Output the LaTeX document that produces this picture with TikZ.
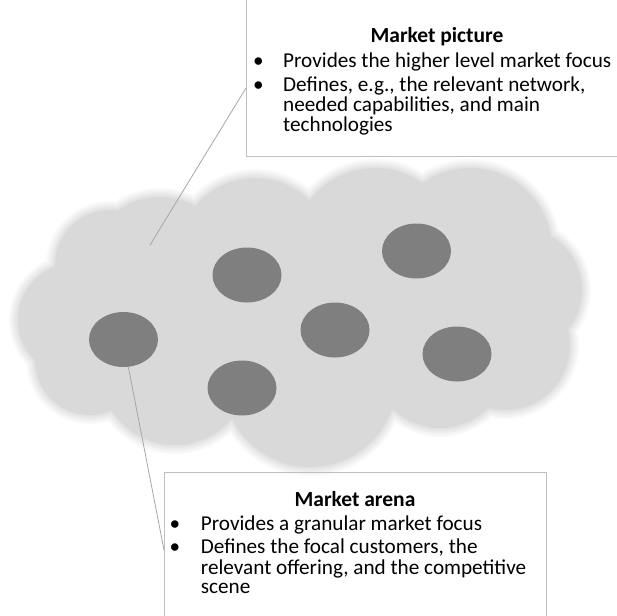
\documentclass[tikz,border=0pt]{standalone}
\usepackage{fontspec}
\setmainfont{Carlito}
\usetikzlibrary{shapes.geometric}
\definecolor{cloudgray}{HTML}{D9D9D9}
\definecolor{firmgray}{HTML}{7F7F7F}
\definecolor{framegray}{HTML}{BFBFBF}
\definecolor{leadgray}{HTML}{A6A6A6}
\tikzset{
  firm/.style={ellipse, fill=firmgray, minimum width=69pt, minimum height=55pt, inner sep=0pt},
  boxframe/.style={draw=framegray, line width=1pt},
  leader/.style={draw=leadgray, line width=0.8pt},
  bodytext/.style={anchor=base west, inner sep=0pt, text height=14.5pt, text depth=4.5pt,
    font=\fontsize{21.2}{20}\selectfont},
  headtext/.style={anchor=base, inner sep=0pt, text height=14.5pt, text depth=4.5pt,
    font=\fontsize{21.5}{20}\selectfont\bfseries},
  dot/.style={anchor=base, inner sep=0pt, font=\fontsize{21.2}{20}\selectfont}
}
\newcommand{\cloudparts}{75/320/57, 110/265/55, 160/270/73, 255/255/77, 375/250/82, 470/250/82,
  520/290/62, 505/345/65, 440/360/68, 310/380/87, 175/370/75, 90/360/55}

\begin{document}
\begin{tikzpicture}[x=1pt,y=-1pt]
  \useasboundingbox (0,0) rectangle (617,615);

  % cloud, with a soft rim
  \foreach \off/\op in {9/0.15, 7/0.2, 5/0.25, 3/0.3, 1.5/0.35}{
    \begin{scope}[transparency group, opacity=\op]
      \foreach \cx/\cy/\r in \cloudparts
        \fill[cloudgray] (\cx,\cy) circle[radius=\r pt + \off pt];
    \end{scope}
  }
  \foreach \cx/\cy/\r in \cloudparts
    \fill[cloudgray] (\cx,\cy) circle[radius=\r pt];
  \fill[cloudgray] (300,310) ellipse[x radius=230pt, y radius=110pt];

  % firms
  \node[firm] (firm1) at (123.5,339.5) {};
  \node[firm] (firm2) at (247,275) {};
  \node[firm] (firm3) at (416.5,251) {};
  \node[firm] (firm4) at (335,330) {};
  \node[firm] (firm5) at (457,354) {};
  \node[firm] (firm6) at (242,388) {};

  % boxes
  \draw[boxframe] (246,-5) rectangle (630,156.7);
  \draw[boxframe] (164,472.7) rectangle (546,630);

  \coordinate (picfoot) at (246,88);
  \coordinate (pictip) at (150,245);
  \coordinate (arenafoot) at (164,550);
  \draw[leader] (picfoot) -- (pictip);
  \draw[leader] (firm1.-80) -- (arenafoot);

  % market picture
  \node[headtext] (pichead) at (437,42.7) {Market picture};
  \node[dot] (picdot1) at (258.3,67.7) {\textbullet};
  \node[dot] (picdot2) at (258.3,91.2) {\textbullet};
  \foreach \yy/\txt [count=\i] in {67.7/{Provides the higher level market focus},
                                   91.2/{Defines, e.g., the relevant network,},
                                   111.7/{needed capabilities, and main},
                                   131.5/{technologies}}
    \node[bodytext] (picline\i) at (283,\yy) {\txt};

  % market arena
  \node[headtext] (arenahead) at (355,506.7) {Market arena};
  \node[dot] (arenadot1) at (175,530) {\textbullet};
  \node[dot] (arenadot2) at (175,553.5) {\textbullet};
  \foreach \yy/\txt [count=\i] in {530/{Provides a granular market focus},
                                   553.5/{Defines the focal customers, the},
                                   574/{relevant offering, and the competitive},
                                   593.5/{scene}}
    \node[bodytext] (arenaline\i) at (200.7,\yy) {\txt};
\end{tikzpicture}
\end{document}
